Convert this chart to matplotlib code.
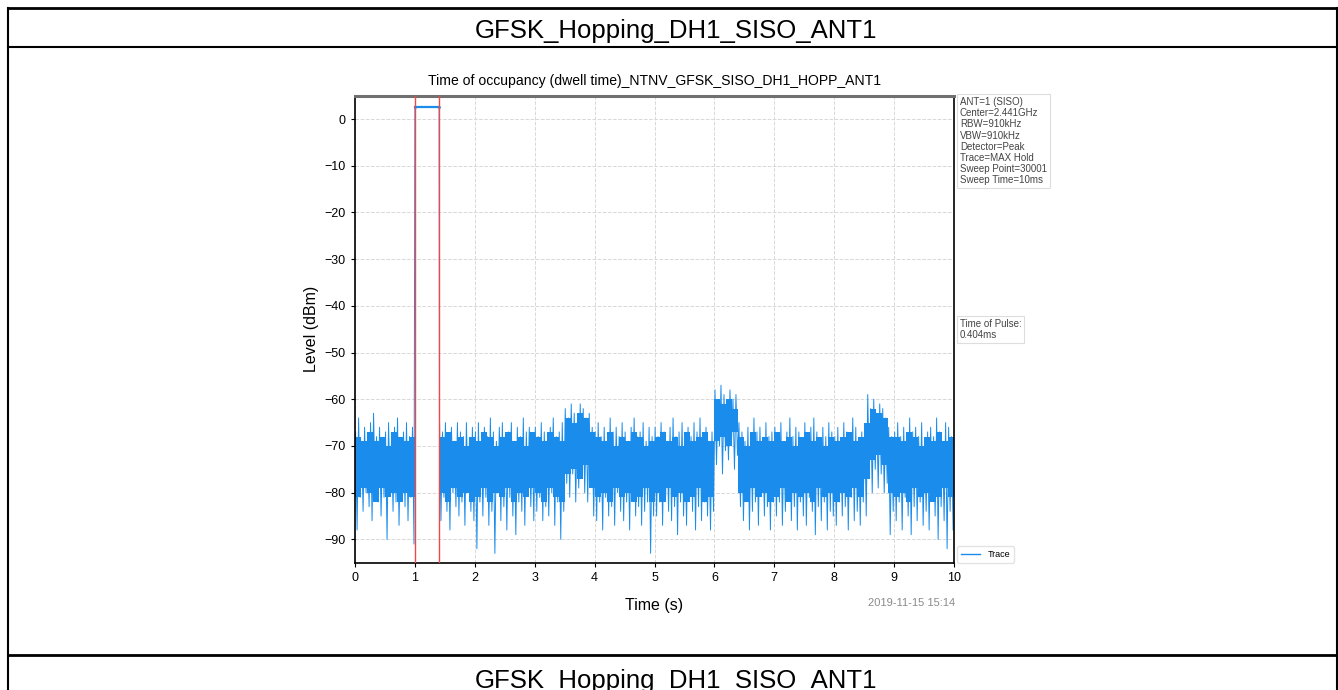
import numpy as np
import matplotlib
matplotlib.use('Agg')
import matplotlib.pyplot as plt
from matplotlib.lines import Line2D

plt.rcParams['font.family'] = ['Liberation Sans', 'DejaVu Sans']

# ---------------------
# data
# ---------------------
header = "GFSK_Hopping_DH1_SISO_ANT1"
title = "Time of occupancy (dwell time)_NTNV_GFSK_SISO_DH1_HOPP_ANT1"
nan = np.nan

# max-hold trace envelope, one peak and one dip per 0.05 step (nan = pulse on)
spike_start = np.round(np.arange(0, 10, 0.05), 3)
peaks = [
    -67, -64, -69, -66, -68, -65, -63, -68, -66, -69, -67, -65, -68, -66, -64, -69, -67, -65, -68, -66,  # 0-1
    nan, nan, nan, nan, nan, nan, nan, nan,                                                             # 1-1.4
    -64, -67, -65, -68, -66, -69, -65, -67, -68, -65, -69, -66,                                         # 1.4-2
    -67, -65, -69, -66, -68, -64, -67, -69, -66, -65, -68, -67, -65, -69, -66, -68, -64, -67, -66, -69,  # 2-3
    -66, -68, -65, -67, -69, -66, -64, -68, -67, -65,                                                   # 3-3.5
    -62, -64, -61, -63, -65, -61, -62, -64, -63, -66,                                                   # 3.5-4
    -67, -65, -68, -66, -69, -64, -67, -66, -68, -65, -67, -69, -66, -64, -68, -67, -65, -69, -66, -68,  # 4-5
    -66, -68, -65, -67, -69, -66, -64, -68, -67, -65, -69, -66, -68, -65, -67, -64, -68, -66, -69, -67,  # 5-6
    -58, -60, -57, -59, -61, -58, -60, -59,                                                             # 6-6.4
    -65, -67, -69, -66, -68, -64, -67, -66, -69, -65, -68, -67,                                         # 6.4-7
    -66, -68, -65, -69, -67, -64, -68, -66, -67, -69, -65, -68, -66, -64, -67, -69, -66, -68, -65, -67,  # 7-8
    -68, -66, -69, -65, -67, -68, -64, -66, -69, -67,                                                   # 8-8.5
    -66, -59, -62, -60, -63, -61, -62, -64, -66, -68,                                                   # 8.5-9
    -67, -65, -68, -66, -69, -64, -67, -66, -68, -65, -69, -67, -66, -68, -64, -67, -69, -65, -66, -68,  # 9-10
]
dips = [
    -88, -81, -84, -80, -83, -86, -79, -82, -85, -81, -90, -80, -84, -82, -87, -79, -83, -86, -81, -91,
    nan, nan, nan, nan, nan, nan, nan, nan,
    -86, -81, -84, -88, -80, -83, -85, -82, -87, -80, -84, -86,
    -92, -82, -85, -81, -87, -84, -93, -80, -86, -83, -88, -81, -85, -89, -82, -84, -87, -80, -83, -86,
    -84, -81, -86, -83, -85, -80, -87, -82, -90, -84,
    -78, -81, -76, -82, -79, -77, -80, -82, -78, -85,
    -86, -82, -88, -81, -85, -83, -87, -80, -84, -86, -82, -88, -81, -85, -83, -87, -84, -82, -93, -85,
    -85, -82, -87, -81, -84, -86, -83, -89, -82, -85, -87, -81, -84, -88, -83, -86, -82, -85, -88, -84,
    -74, -70, -76, -71, -73, -69, -75, -72,
    -83, -86, -81, -88, -84, -82, -87, -80, -85, -83, -88, -82,
    -85, -82, -87, -84, -81, -86, -83, -88, -82, -85, -87, -81, -84, -89, -83, -86, -82, -88, -84, -85,
    -87, -82, -85, -83, -88, -81, -86, -84, -87, -82,
    -85, -77, -80, -75, -79, -76, -80, -78, -89, -84,
    -86, -82, -88, -81, -85, -89, -83, -86, -82, -87, -84, -88, -81, -85, -90, -83, -86, -92, -84, -88,
]

# dense core of the trace, per 0.1 step
core_start = np.round(np.arange(0, 10, 0.1), 2)
core_top = [
    -68, -69, -67, -69, -68, -70, -67, -68, -69, -68,
    nan, nan, nan, nan,
    -68, -67, -69, -68, -70, -68,
    -69, -67, -68, -70, -68, -67, -69, -68, -70, -67,
    -68, -69, -67, -68, -69,
    -64, -65, -63, -64, -67,
    -68, -69, -67, -70, -68, -69, -67, -68, -70, -69,
    -68, -67, -69, -68, -70, -67, -69, -68, -67, -69,
    -60, -61, -60, -62,
    -68, -70, -67, -69, -68, -69,
    -67, -69, -68, -70, -68, -67, -69, -68, -70, -68,
    -69, -68, -67, -69, -68,
    -65, -62, -63, -64, -68,
    -68, -69, -67, -68, -70, -68, -69, -67, -69, -68,
]
core_low = [
    -81, -79, -80, -82, -79, -81, -80, -82, -80, -81,
    nan, nan, nan, nan,
    -80, -82, -79, -81, -80, -82,
    -81, -79, -82, -80, -81, -79, -82, -80, -81, -79,
    -80, -82, -79, -81, -82,
    -76, -75, -77, -74, -79,
    -81, -80, -82, -79, -81, -80, -82, -81, -79, -82,
    -80, -82, -79, -81, -80, -82, -81, -79, -82, -81,
    -69, -68, -70, -67,
    -80, -82, -79, -81, -80, -82,
    -81, -79, -82, -80, -81, -80, -82, -79, -81, -80,
    -82, -80, -81, -79, -81,
    -77, -73, -72, -74, -80,
    -81, -80, -82, -79, -81, -80, -82, -81, -79, -81,
]

# pulse
pulse_start = 1.0
pulse_end = 1.404
pulse_level = 2.6

info_lines = ["ANT=1 (SISO)", "Center=2.441GHz", "RBW=910kHz", "VBW=910kHz",
              "Detector=Peak", "Trace=MAX Hold", "Sweep Point=30001",
              "Sweep Time=10ms"]
pulse_text = "Time of Pulse:\n0.404ms"
stamp = "2019-11-15 15:14"

trace_color = '#1a8cec'

# ---------------------
# build the trace line from the envelope values
# ---------------------
tx, ty = [], []
for t0, p, d in zip(spike_start, peaks, dips):
    if np.isnan(p):
        continue
    if t0 >= pulse_end - 0.01 and tx and tx[-1] < pulse_start + 0.01:
        tx += [pulse_start, pulse_end]
        ty += [pulse_level, pulse_level]
    tx += [t0 + 0.01, t0 + 0.035]
    ty += [p, d]

core_top = np.array(core_top, dtype=float)
core_low = np.array(core_low, dtype=float)
ok = ~np.isnan(core_top)

fig = plt.figure(figsize=(13.38, 6.9), dpi=100)

# table frame
W, H = 1338.0, 690.0
def hline(y, x0=8, x1=1337, lw=1.5):
    fig.add_artist(Line2D([x0 / W, x1 / W], [1 - y / H, 1 - y / H],
                          transform=fig.transFigure, color='black', lw=lw))
def vline(x, y0, y1, lw=1.5):
    fig.add_artist(Line2D([x / W, x / W], [1 - y0 / H, 1 - y1 / H],
                          transform=fig.transFigure, color='black', lw=lw))
hline(8, lw=2)
hline(47)
hline(655, lw=2)
vline(8, 8, 690)
vline(1336.5, 8, 690)

fig.text(676 / W, 1 - 31 / H, header, ha='center', va='center', fontsize=18.5)
fig.text(676 / W, 1 - 688 / H, header, ha='center', va='baseline', fontsize=18.5)

ax = fig.add_axes([355 / W, 1 - 562.7 / H, (954 - 355) / W, (562.7 - 95.7) / H])

ax.bar(core_start[ok], core_top[ok] - core_low[ok], bottom=core_low[ok], width=0.1,
       align='edge', color=trace_color, lw=0, zorder=2)
ax.plot(tx, ty, color=trace_color, lw=0.7, label='Trace', zorder=2)
ax.plot([pulse_start, pulse_end], [pulse_level, pulse_level], color=trace_color,
        lw=1.6, marker='.', markersize=2, zorder=2)
ax.axvline(pulse_start, color='#f04848', lw=1, zorder=3)
ax.axvline(pulse_end, color='#f04848', lw=1, zorder=3)

ax.set_xlim(0, 10)
ax.set_ylim(-95, 5)
ax.set_xticks(range(0, 11))
ax.set_yticks(range(-90, 1, 10))
ax.grid(True, ls='--', color='#d8d8d8', lw=0.7)
ax.tick_params(labelsize=9, length=3)
ax.set_title(title, fontsize=10.1, pad=8)
ax.set_xlabel('Time (s)', fontsize=11.5, labelpad=10)
ax.set_ylabel('Level (dBm)', fontsize=11.5)
for side in ['left', 'bottom', 'right']:
    ax.spines[side].set_linewidth(1.2)
ax.spines['top'].set_color('#707070')
ax.spines['top'].set_linewidth(2.2)

leg = ax.legend(loc='lower left', bbox_to_anchor=(1.005, 0.0), fontsize=6.5,
                frameon=True, handlelength=2.2, borderaxespad=0)
leg.get_frame().set_edgecolor('#dddddd')
for h in leg.get_lines():
    h.set_linewidth(1.0)

box = dict(facecolor='white', edgecolor='#dddddd', lw=0.8, pad=2)
fig.text(960 / W, 1 - 97 / H, "\n".join(info_lines), ha='left', va='top',
         fontsize=7, color='#444444', linespacing=1.15, bbox=box)
fig.text(960 / W, 1 - 319 / H, pulse_text, ha='left', va='top',
         fontsize=7, color='#444444', linespacing=1.15, bbox=box)
fig.text(955 / W, 1 - 603 / H, stamp, ha='right', va='center', fontsize=8,
         color='#8a8a8a')

fig.savefig('out.png', dpi=100)
